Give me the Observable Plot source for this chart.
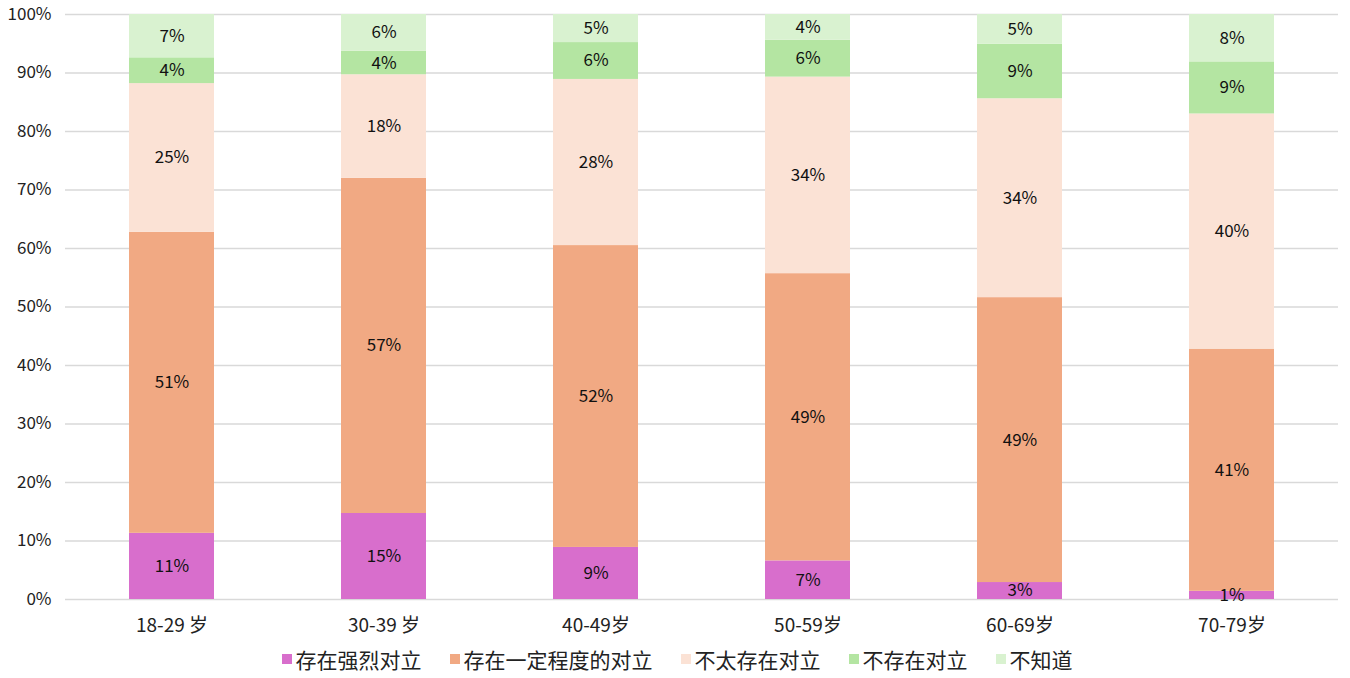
<!DOCTYPE html>
<html>
<head>
<meta charset="utf-8">
<script src="https://cdn.jsdelivr.net/npm/d3@7"></script>
<script src="https://cdn.jsdelivr.net/npm/@observablehq/plot@0.6"></script>
<style>
  body { margin: 0; background: #fff; font-family: "Noto Sans CJK SC", sans-serif; }
  #legend { display: flex; justify-content: center; align-items: center; gap: 28px; font-size: 21px; color: #222; margin-top: 4px; padding-left: 4px; }
  #legend .item { display: flex; align-items: center; gap: 4px; }
  #legend .sw { width: 10px; height: 10px; display: inline-block; }
</style>
</head>
<body>
<div id="chart"></div>
<div id="legend"></div>
<script>
const ages = ["18-29 岁", "30-39 岁", "40-49岁", "50-59岁", "60-69岁", "70-79岁"];
const series = ["存在强烈对立", "存在一定程度的对立", "不太存在对立", "不存在对立", "不知道"];
const colors = ["#D86ECC", "#F1A983", "#FBE2D5", "#B4E5A2", "#D9F2D0"];
const strong    = [11.3, 14.7, 8.9, 6.6, 2.9, 1.4];
const some      = [51.4, 57.3, 51.6, 49.1, 48.7, 41.4];
const notMuch   = [25.4, 17.7, 28.4, 33.6, 34.0, 40.2];
const none      = [4.4, 4.0, 6.3, 6.3, 9.3, 8.9];
const dunno     = [7.4, 6.3, 4.8, 4.4, 5.1, 8.1];
const yTicks = [0, 0.1, 0.2, 0.3, 0.4, 0.5, 0.6, 0.7, 0.8, 0.9, 1.0];

const seriesValues = [strong, some, notMuch, none, dunno];
const data = [];
series.forEach((s, si) => {
  ages.forEach((a, ai) => {
    data.push({age: a, series: s, value: seriesValues[si][ai]});
  });
});

const font = "Noto Sans CJK SC";
const plot = Plot.plot({
  width: 1350,
  height: 640,
  marginTop: 14,
  marginBottom: 41,
  marginLeft: 65,
  marginRight: 12,
  style: {fontFamily: font, background: "#fff", color: "#222"},
  x: {domain: ages, paddingInner: 0.6, paddingOuter: 0.3, label: null},
  y: {domain: [0, 1], label: null},
  color: {domain: series, range: colors},
  marks: [
    Plot.ruleY(yTicks, {stroke: "#d9d9d9", strokeWidth: 1.5}),
    Plot.barY(data, Plot.stackY({x: "age", y: "value", fill: "series", offset: "normalize", order: null})),
    Plot.text(data, Plot.stackY({x: "age", y: "value", z: "series", offset: "normalize", order: null,
      text: d => Math.round(d.value) + "%", fill: "#111", fontSize: 17})),
    Plot.axisY({ticks: yTicks, tickSize: 0, tickPadding: 14, tickFormat: d => Math.round(d * 100) + "%", fontSize: 17, label: null}),
    Plot.axisX({tickSize: 0, tickPadding: 19, fontSize: 19, label: null})
  ]
});
document.getElementById("chart").appendChild(plot);

const legend = document.getElementById("legend");
series.forEach((s, i) => {
  const item = document.createElement("div");
  item.className = "item";
  const sw = document.createElement("span");
  sw.className = "sw";
  sw.style.background = colors[i];
  const t = document.createElement("span");
  t.textContent = s;
  item.appendChild(sw);
  item.appendChild(t);
  legend.appendChild(item);
});
</script>
</body>
</html>
